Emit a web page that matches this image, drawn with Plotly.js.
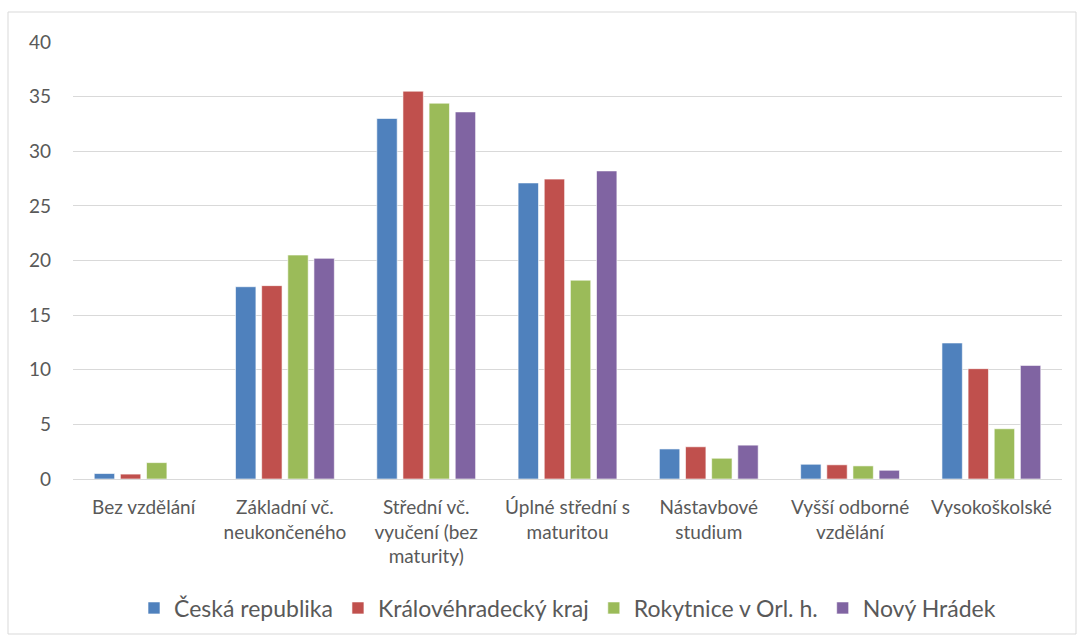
<!DOCTYPE html>
<html><head><meta charset="utf-8">
<script src="https://cdn.plot.ly/plotly-3.0.1.min.js"></script>
<style>body{margin:0;background:#fff}#c{width:1078px;height:642px}</style>
</head><body><div id="c"></div>
<script>
const categories = ["Bez vzdělání", "Základní vč.<br>neukončeného", "Střední vč.<br>vyučení (bez<br>maturity)", "Úplné střední s<br>maturitou", "Nástavbové<br>studium", "Vyšší odborné<br>vzdělání", "Vysokoškolské"];
const seriesNames = ["Česká republika", "Královéhradecký kraj", "Rokytnice v Orl. h.", "Nový Hrádek"];
const ceskaRepublika = [0.5, 17.6, 33.0, 27.1, 2.75, 1.35, 12.45];
const kralovehradeckyKraj = [0.45, 17.7, 35.5, 27.45, 2.95, 1.3, 10.1];
const rokytnice = [1.5, 20.5, 34.4, 18.2, 1.9, 1.2, 4.6];
const novyHradek = [0, 20.2, 33.6, 28.2, 3.1, 0.8, 10.4];
const colors = ["#4F81BD", "#C0504D", "#9BBB59", "#8064A2"];
const allSeries = [ceskaRepublika, kralovehradeckyKraj, rokytnice, novyHradek];

const FONT = "Lato, 'Open Sans', sans-serif";
const traces = allSeries.map((vals, i) => ({
  type: "bar", name: seriesNames[i], x: categories, y: vals,
  marker: {color: colors[i], line: {color: "rgba(255,255,255,0.6)", width: 1}},
  hoverinfo: "y"
}));

const L = 73, R = 16, T = 42, B = 163, W = 1078, H = 642;
const pw = W - L - R, ph = H - T - B;
const px = v => (v - L) / pw;
const py = v => (H - B - v) / ph;

const layout = {
  width: W, height: H,
  margin: {l: L, r: R, t: T, b: B},
  paper_bgcolor: "#fff", plot_bgcolor: "#fff",
  barmode: "group", bargap: 0.26, bargroupgap: 0.22,
  font: {family: FONT, color: "#595959", size: 16},
  xaxis: {type: "category", showgrid: false, zeroline: false, showline: false, ticks: "", tickangle: 0,
          tickfont: {family: FONT, size: 19, color: "#595959"}, ticklabelstandoff: 15, automargin: false},
  yaxis: {range: [0, 40], dtick: 5, showgrid: true, gridcolor: "#d9d9d9", gridwidth: 1,
          zeroline: true, zerolinecolor: "#d9d9d9", zerolinewidth: 1, showline: false, ticks: "",
          tickfont: {family: FONT, size: 19, color: "#595959"}, ticklabelstandoff: 21, automargin: false},
  showlegend: true,
  legend: {orientation: "h", x: 0.5, xanchor: "center", y: py(608), yanchor: "middle",
           font: {family: FONT, size: 23, color: "#595959"}, itemwidth: 30, tracegroupgap: 0, traceorder: "normal"},
  shapes: [{type: "rect", xref: "paper", yref: "paper", x0: px(8), x1: px(1076), y0: py(634), y1: py(12),
            line: {color: "#d9d9d9", width: 1}, fillcolor: "rgba(0,0,0,0)", layer: "below"}]
};
Plotly.newPlot("c", traces, layout, {displayModeBar: false, staticPlot: true});
</script></body></html>
